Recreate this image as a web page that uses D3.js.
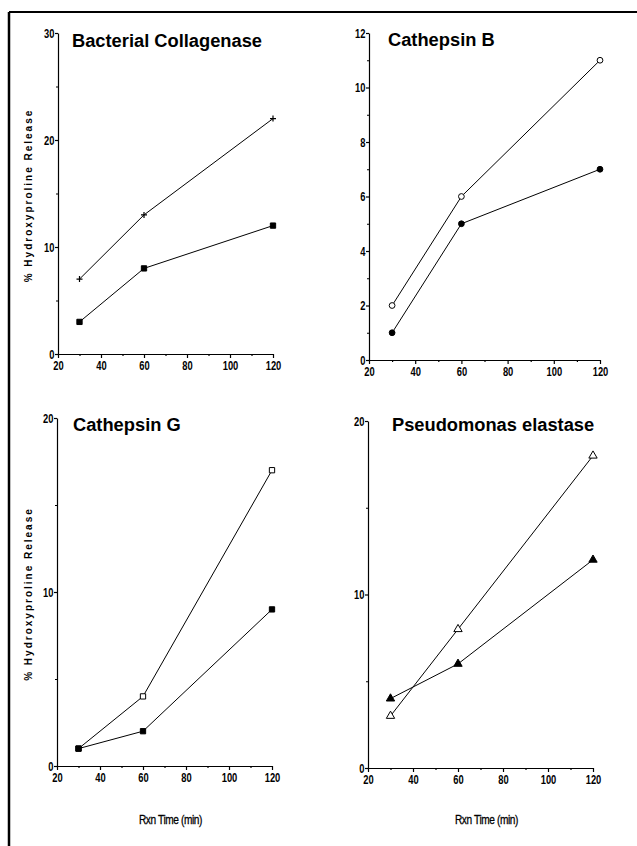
<!DOCTYPE html>
<html lang="en">
<head>
  <meta charset="UTF-8">
  <title>Hydroxyproline release</title>
  <style>
    body { margin: 0; background: #fff; }
    svg { display: block; }
    .tick text {
      font-family: "Liberation Sans", Arial, sans-serif;
      font-weight: bold;
      font-size: 13px;
      fill: #000;
    }
    .axis path, .axis line { stroke: #000; stroke-width: 1.2px; }
    .title {
      font-family: "Liberation Sans", Arial, sans-serif;
      font-weight: bold;
      font-size: 18.3px;
    }
    .ylab {
      font-family: "Liberation Sans", Arial, sans-serif;
      font-weight: bold;
      font-size: 10px;
      letter-spacing: 2px;
    }
    .xlab {
      font-family: "Liberation Sans", Arial, sans-serif;
      font-size: 13px;
      letter-spacing: -0.5px;
      stroke: #000;
      stroke-width: 0.3px;
    }
  </style>
</head>
<body>
  <script src="https://cdnjs.cloudflare.com/ajax/libs/d3/7.8.5/d3.min.js"></script>
  <svg></svg>
  <script>
    var width = 637, height = 846;

    // data
    var times = [30, 60, 120];
    var xTicks = [20, 40, 60, 80, 100, 120];
    var collagenasePlus = [7, 13, 22];
    var collagenaseSquare = [3, 8, 12];
    var cathBOpen = [2, 6, 11];
    var cathBFilled = [1, 5, 7];
    var cathGOpen = [1, 4, 17];
    var cathGFilled = [1, 2, 9];
    var pseudoOpen = [3, 8, 18];
    var pseudoFilled = [4, 6, 12];
    var yTicks30 = [0, 10, 20, 30];
    var yTicks12 = [0, 2, 4, 6, 8, 10, 12];
    var yTicks20 = [0, 10, 20];

    var svg = d3.select('svg')
                .attr('width', width)
                .attr('height', height);

    // frame (top and left edges only)
    svg.append('line').attr('x1', 9).attr('x2', width).attr('y1', 12).attr('y2', 12)
      .attr('stroke', '#000').attr('stroke-width', 2);
    svg.append('line').attr('x1', 9).attr('x2', 9).attr('y1', 12).attr('y2', height)
      .attr('stroke', '#000').attr('stroke-width', 2.5);

    var panels = [
      {title: 'Bacterial Collagenase', tx: 72, ty: 47, x0: 58, x1: 273, y0: 354, y1: 33,
       ymax: 30, yTicks: yTicks30, minor: 5,
       series: [{v: collagenasePlus, m: 'plus'}, {v: collagenaseSquare, m: 'square', fill: true}],
       ylab: true, xlab: false},
      {title: 'Cathepsin B', tx: 388, ty: 46, x0: 369, x1: 600, y0: 360, y1: 33,
       ymax: 12, yTicks: yTicks12, minor: 1,
       series: [{v: cathBOpen, m: 'circle'}, {v: cathBFilled, m: 'circle', fill: true}],
       ylab: false, xlab: false},
      {title: 'Cathepsin G', tx: 73, ty: 431, x0: 57, x1: 272, y0: 766, y1: 418,
       ymax: 20, yTicks: yTicks20, minor: 5,
       series: [{v: cathGOpen, m: 'square'}, {v: cathGFilled, m: 'square', fill: true}],
       ylab: true, xlab: true},
      {title: 'Pseudomonas elastase', tx: 392, ty: 431, x0: 368, x1: 593, y0: 768, y1: 421,
       ymax: 20, yTicks: yTicks20, minor: 5,
       series: [{v: pseudoOpen, m: 'triangle'}, {v: pseudoFilled, m: 'triangle', fill: true}],
       ylab: false, xlab: true}
    ];

    panels.forEach(function(p) {
      var x = d3.scaleLinear().domain([20, 120]).range([p.x0, p.x1]);
      var y = d3.scaleLinear().domain([0, p.ymax]).range([p.y0, p.y1]);
      var g = svg.append('g');

      // minor ticks
      var yMinor = d3.range(0, p.ymax, p.minor).filter(function(d) { return p.yTicks.indexOf(d) < 0; });
      g.append('g').attr('class', 'axis')
        .attr('transform', 'translate(' + p.x0 + ',0)')
        .call(d3.axisLeft(y).tickValues(yMinor).tickSize(2).tickFormat(''))
        .select('.domain').remove();
      var xMinor = d3.range(30, 120, 20);
      g.append('g').attr('class', 'axis')
        .attr('transform', 'translate(0,' + p.y0 + ')')
        .call(d3.axisBottom(x).tickValues(xMinor).tickSize(2).tickFormat(''))
        .select('.domain').remove();

      // main axes
      g.append('g').attr('class', 'axis')
        .attr('transform', 'translate(' + p.x0 + ',0)')
        .call(d3.axisLeft(y).tickValues(p.yTicks).tickSize(3).tickSizeOuter(0).tickPadding(2))
        .selectAll('.tick text').attr('transform', 'scale(0.72,1)');
      g.append('g').attr('class', 'axis')
        .attr('transform', 'translate(0,' + p.y0 + ')')
        .call(d3.axisBottom(x).tickValues(xTicks).tickSize(4).tickSizeOuter(0).tickPadding(3))
        .selectAll('.tick text').attr('transform', 'scale(0.72,1)');

      // title
      g.append('text').attr('class', 'title')
        .attr('x', p.tx).attr('y', p.ty).text(p.title);

      // lines and markers
      p.series.forEach(function(s) {
        var pts = times.map(function(t, i) { return [x(t), y(s.v[i])]; });
        g.append('path')
          .attr('d', d3.line()(pts))
          .attr('fill', 'none').attr('stroke', '#000').attr('stroke-width', 1);

        var mk = g.selectAll(null).data(pts).enter().append('g')
          .attr('transform', function(d) { return 'translate(' + d[0] + ',' + d[1] + ')'; });
        if (s.m === 'plus') {
          mk.append('path').attr('d', 'M-3,0H3M0,-3V3')
            .attr('stroke', '#000').attr('stroke-width', 1.2);
        } else {
          var type = s.m === 'square' ? d3.symbolSquare : s.m === 'circle' ? d3.symbolCircle : d3.symbolTriangle;
          var size = s.m === 'triangle' ? 30 : s.m === 'circle' ? 26 : 28;
          mk.append('path').attr('d', d3.symbol().type(type).size(size)())
            .attr('fill', s.fill ? '#000' : '#fff')
            .attr('stroke', '#000').attr('stroke-width', 1);
        }
      });

      if (p.ylab) {
        g.append('text').attr('class', 'ylab')
          .attr('transform', 'translate(32,' + ((p.y0 + p.y1) / 2 + 2) + ') rotate(-90)')
          .attr('text-anchor', 'middle')
          .text('% Hydroxyproline Release');
      }
      if (p.xlab) {
        var cx = (p.x0 + p.x1) / 2 + 6;
        g.append('text').attr('class', 'xlab')
          .attr('transform', 'translate(' + cx + ',824) scale(0.78,1)')
          .attr('text-anchor', 'middle')
          .text('Rxn Time (min)');
      }
    });
  </script>
</body>
</html>
